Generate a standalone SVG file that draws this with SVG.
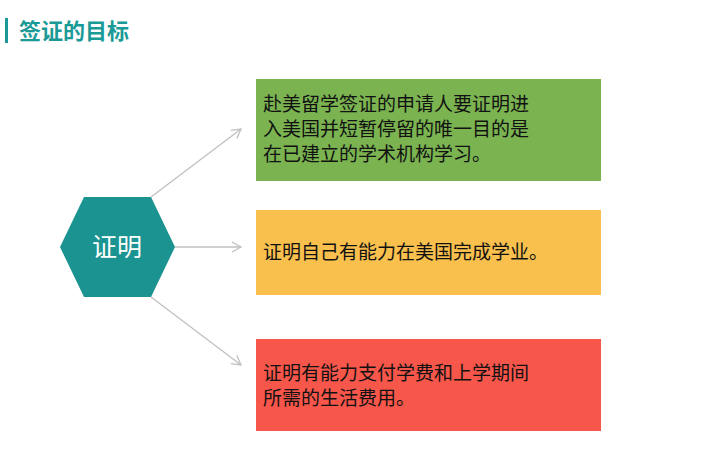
<svg xmlns="http://www.w3.org/2000/svg" width="712" height="465" viewBox="0 0 712 465">
<style>
text{font-family:"Noto Sans CJK SC","Liberation Sans",sans-serif}
.t{font-size:19px;fill:#111}
.c{stroke:#c0c0c0;stroke-width:1.3;fill:none}
</style>
<defs><marker id="a" markerWidth="12" markerHeight="12" refX="10" refY="6" orient="auto" markerUnits="userSpaceOnUse"><path d="M1,1 L10,6 L1,11" fill="none" stroke="#c0c0c0" stroke-width="1.3"/></marker></defs>
<rect width="712" height="465" fill="#fff"/>
<g id="title"><rect x="5" y="18" width="3" height="25" fill="#1a9a96"/><text x="19" y="39" font-size="22" font-weight="bold" fill="#1a9a96">签证的目标</text></g>
<g id="connectors">
<line class="c" x1="151" y1="197" x2="241" y2="129" marker-end="url(#a)"/>
<line class="c" x1="175" y1="247" x2="241" y2="247" marker-end="url(#a)"/>
<line class="c" x1="151" y1="297" x2="241" y2="365" marker-end="url(#a)"/>
</g>
<g id="hex"><polygon points="60,247 84,197 151,197 175,247 151,297 84,297" fill="#1b9391"/><text x="117" y="256" font-size="25" fill="#fff" text-anchor="middle">证明</text></g>
<g id="box1"><rect x="256" y="79" width="345" height="102" fill="#7ab350"/>
<text class="t"><tspan x="263" y="111">赴美留学签证的申请人要证明进</tspan><tspan x="263" y="136">入美国并短暂停留的唯一目的是</tspan><tspan x="263" y="161">在已建立的学术机构学习。</tspan></text></g>
<g id="box2"><rect x="256" y="210" width="345" height="85" fill="#f9c04e"/><text class="t" x="263" y="259">证明自己有能力在美国完成学业。</text></g>
<g id="box3"><rect x="256" y="339" width="345" height="92" fill="#f7564a"/>
<text class="t"><tspan x="263" y="380">证明有能力支付学费和上学期间</tspan><tspan x="263" y="405">所需的生活费用。</tspan></text></g>
</svg>
